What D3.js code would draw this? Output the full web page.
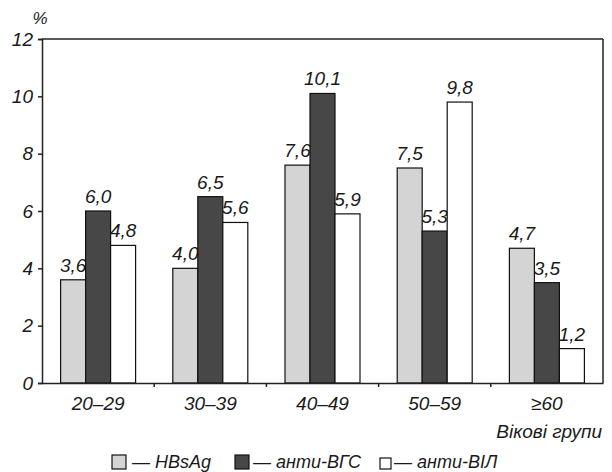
<!DOCTYPE html>
<html><head><meta charset="utf-8">
<script src="https://cdn.jsdelivr.net/npm/d3@7"></script>
<style>
body{margin:0;background:#fff;}
text{font-family:"Liberation Sans Narrow","Arial Narrow","Liberation Sans",sans-serif;font-style:italic;fill:#1a1a1a;}
</style></head>
<body><svg id="c" width="612" height="472"></svg>
<script>
const categories = ["20–29","30–39","40–49","50–59","≥60"];
const seriesNames = ["HBsAg","анти-ВГС","анти-ВІЛ"];
const hbsag = [3.6,4.0,7.6,7.5,4.7];
const antiHCV = [6.0,6.5,10.1,5.3,3.5];
const antiHIV = [4.8,5.6,5.9,9.8,1.2];
const yTicks = [0,2,4,6,8,10,12];
const colors = ["#d4d4d4","#474747","#ffffff"];
const seriesValues = [hbsag, antiHCV, antiHIV];

const svg = d3.select("#c");
const L=42, R=603, T=39, B=383;
const x = d3.scaleBand().domain(categories).range([L,R]).paddingInner(0).paddingOuter(0);
const xs = d3.scaleBand().domain(seriesNames).range([0, x.bandwidth()]).paddingOuter(0.744).paddingInner(0);
const y = d3.scaleLinear().domain([0,12]).range([B,T]);
const fmt = v => d3.format(".1f")(v).replace(".",",");

// frame top/right
svg.append("line").attr("x1",L).attr("x2",R).attr("y1",T).attr("y2",T).attr("stroke","#222").attr("stroke-width",1.5);
svg.append("line").attr("x1",R).attr("x2",R).attr("y1",T).attr("y2",B).attr("stroke","#222").attr("stroke-width",1.5);

// bars
seriesValues.forEach((vals,si)=>{
  const g = svg.append("g");
  g.selectAll("rect").data(vals).join("rect")
    .attr("x",(d,i)=>x(categories[i])+xs(seriesNames[si]))
    .attr("y",d=>y(d))
    .attr("width",xs.bandwidth())
    .attr("height",d=>y(0)-y(d))
    .attr("fill",colors[si]).attr("stroke","#111").attr("stroke-width",1.2);
  g.selectAll("text").data(vals).join("text")
    .attr("x",(d,i)=>x(categories[i])+xs(seriesNames[si])+xs.bandwidth()/2)
    .attr("y",d=>y(d)-8)
    .attr("text-anchor","middle").attr("font-size",19)
    .text(d=>fmt(d));
});

// y axis
const ya = svg.append("g").attr("transform",`translate(${L},0)`)
  .call(d3.axisLeft(y).tickValues(yTicks).tickSize(4).tickPadding(5).tickFormat(d=>d));
ya.select(".domain").attr("stroke","#222").attr("stroke-width",1.5);
ya.selectAll(".tick line").attr("stroke","#222").attr("stroke-width",1.5);
ya.selectAll("text").attr("font-size",19).attr("fill","#1a1a1a");
ya.attr("font-family",null);

// x axis
const xa = svg.append("g").attr("transform",`translate(0,${B})`)
  .call(d3.axisBottom(x).tickSize(0).tickPadding(14));
xa.select(".domain").attr("stroke","#222").attr("stroke-width",1.5);
xa.selectAll("text").attr("font-size",19).attr("fill","#1a1a1a");
xa.attr("font-family",null);
// boundary ticks
const bounds = categories.slice(1).map(c=>x(c));
svg.append("g").selectAll("line").data(bounds).join("line")
  .attr("x1",d=>d).attr("x2",d=>d).attr("y1",B).attr("y2",B+4).attr("stroke","#222").attr("stroke-width",1.5);

// axis titles
svg.append("text").attr("x",40).attr("y",24).attr("text-anchor","middle").attr("font-size",17).text("%");
svg.append("text").attr("x",602).attr("y",438).attr("text-anchor","end").attr("font-size",19).text("Вікові групи");

// legend
const legSq = [[112,455,14],[235,455,14],[380,458,11]];
const legTx = [132,253,394];
const lg = svg.append("g");
seriesNames.forEach((n,i)=>{
  const [sx,sy,ss] = legSq[i];
  lg.append("rect").attr("x",sx).attr("y",sy).attr("width",ss).attr("height",ss)
    .attr("fill",colors[i]).attr("stroke","#111").attr("stroke-width",1.2);
  lg.append("text").attr("x",legTx[i]).attr("y",468).attr("font-size",18).text("— "+n);
});
</script></body></html>
